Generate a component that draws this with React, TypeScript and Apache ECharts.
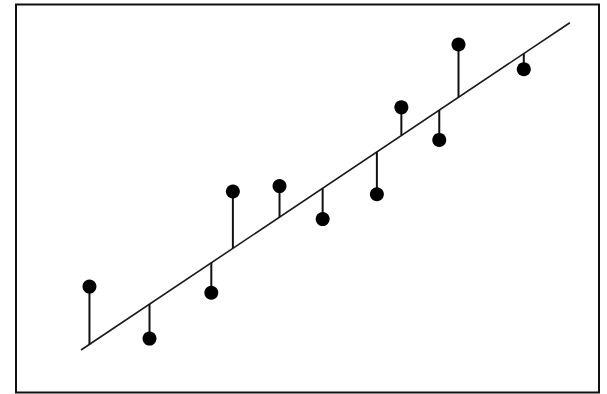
import React, { useEffect, useRef } from "react";
import * as echarts from "echarts";

// Observations (x, y) in plot units (0–100 on both axes)
const xValues = [12.6, 22.9, 33.5, 37.2, 45.2, 52.6, 61.9, 66.1, 72.6, 75.9, 87.1];
const yValues = [27.3, 13.9, 25.7, 51.8, 53.2, 44.7, 51.1, 73.5, 65.1, 89.7, 83.3];
// Fitted values on the regression line at each observation's x
const fittedValues = [12.4, 22.8, 33.4, 37.2, 45.2, 52.6, 62.0, 66.3, 72.8, 76.1, 87.3];
// Regression line end points
const lineX = [11.15, 95.0];
const lineY = [10.95, 95.3];

export default function App() {
  const ref = useRef<HTMLDivElement>(null);

  useEffect(() => {
    if (!ref.current) return;
    const chart = echarts.init(ref.current, undefined, { renderer: "svg" });

    const points = xValues.map((x, i) => [x, yValues[i]]);
    const stems = xValues.map((x, i) => [x, yValues[i], fittedValues[i]]);
    const regLine = lineX.map((x, i) => [x, lineY[i]]);

    const hiddenAxis = {
      type: "value" as const,
      min: 0,
      max: 100,
      axisLine: { show: false },
      axisTick: { show: false },
      axisLabel: { show: false },
      splitLine: { show: false },
    };

    chart.setOption({
      animation: false,
      backgroundColor: "#ffffff",
      grid: {
        left: 16,
        top: 4.5,
        width: 583,
        height: 388,
        show: true,
        borderColor: "#111111",
        borderWidth: 2,
        backgroundColor: "transparent",
      },
      xAxis: hiddenAxis,
      yAxis: hiddenAxis,
      series: [
        {
          type: "line",
          data: regLine,
          symbol: "none",
          lineStyle: { color: "#1a1a1a", width: 1.6 },
          z: 2,
        },
        {
          type: "custom",
          data: stems,
          renderItem: (params: any, api: any) => {
            const x = api.value(0);
            const p1 = api.coord([x, api.value(1)]);
            const p2 = api.coord([x, api.value(2)]);
            return {
              type: "line",
              shape: { x1: p1[0], y1: p1[1], x2: p2[0], y2: p2[1] },
              style: { stroke: "#111111", lineWidth: 2 },
            };
          },
          z: 3,
        },
        {
          type: "scatter",
          data: points,
          symbol: "circle",
          symbolSize: 14,
          itemStyle: { color: "#000000", opacity: 1 },
          z: 4,
        },
      ],
    });

    return () => chart.dispose();
  }, []);

  return (
    <div
      ref={ref}
      style={{ position: "fixed", left: 0, top: 0, width: 607, height: 394, background: "#fff" }}
    />
  );
}
